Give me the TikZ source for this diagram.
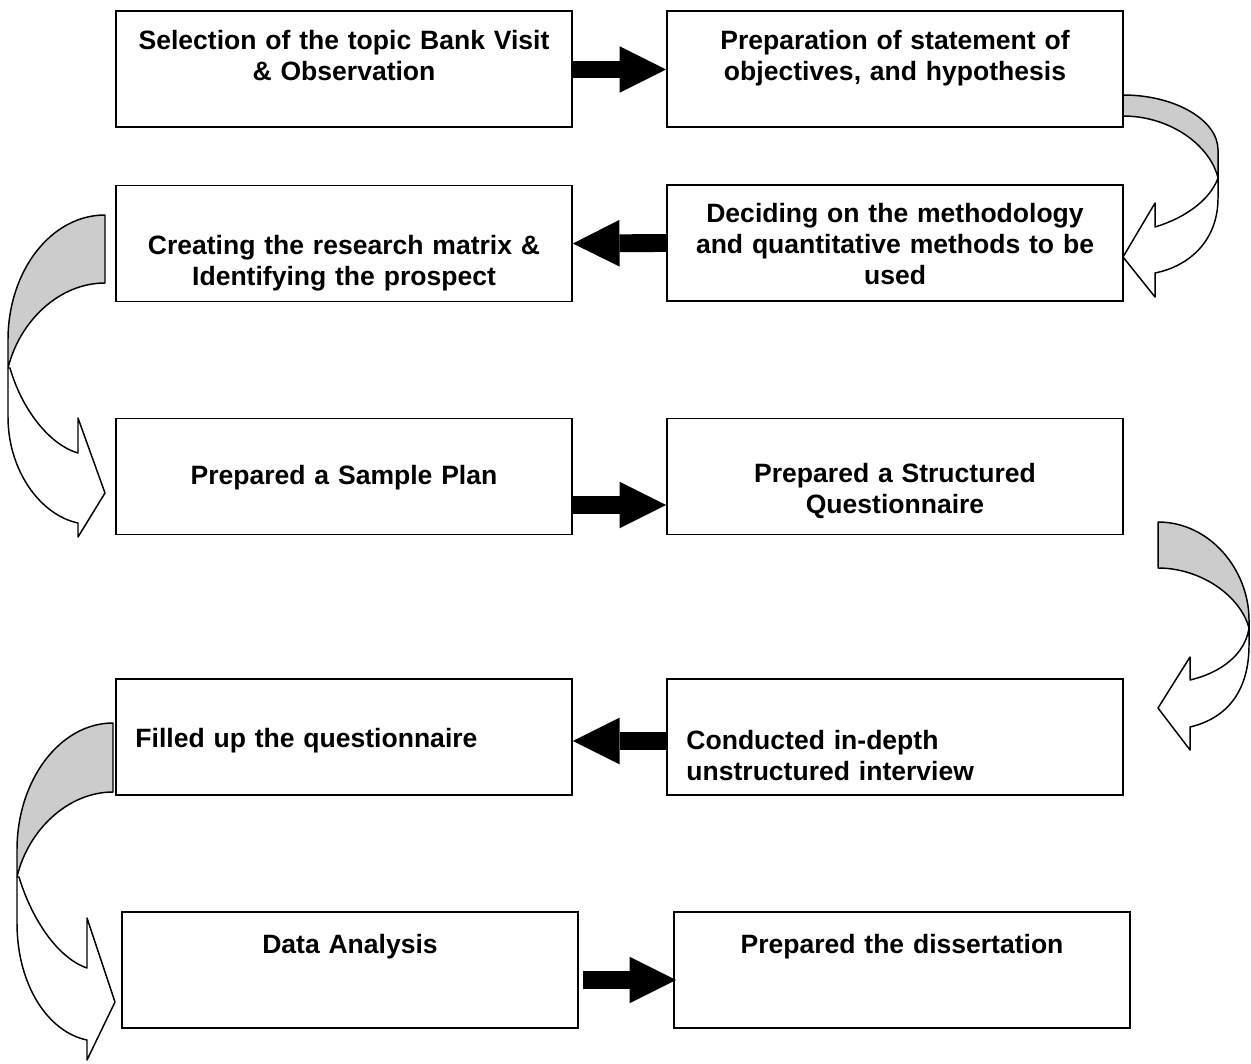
\documentclass[tikz,border=0pt]{standalone}
\usepackage{fontspec}
\setmainfont{Liberation Sans}
\usetikzlibrary{arrows.meta,calc}
\begin{document}
\begin{tikzpicture}[x=0.75pt,y=-0.75pt,
  box/.style={draw, line width=1.25pt, minimum width=342pt, minimum height=87pt, inner sep=0pt},
  lbl/.style={font=\fontsize{19.9}{23.3}\selectfont\bfseries, inner sep=0pt, text width=330pt, align=center, anchor=base},
  lbll/.style={font=\fontsize{19.9}{23.3}\selectfont\bfseries, inner sep=0pt, text width=320pt, align=left, anchor=base west},
  blockarrow/.style={line width=13.4pt, -{Triangle[length=35pt, width=35pt, line width=0pt]}},
  curved/.style={draw, line width=1.1pt, line join=round},
  back/.style={curved, fill=black!20},
  front/.style={curved, fill=white}]
\path[use as bounding box, fill=white] (0,0) rectangle (1251,1063);

% process steps
\node[box] (b1)  at (344,69)    {};
\node[box] (b2)  at (895,69)    {};
\node[box] (b3)  at (344,243.5) {};
\node[box] (b4)  at (895,243)   {};
\node[box] (b5)  at (344,476.5) {};
\node[box] (b6)  at (895,476.5) {};
\node[box] (b7)  at (344,737)   {};
\node[box] (b8)  at (895,737)   {};
\node[box] (b9)  at (350,970)   {};
\node[box] (b10) at (902,970)   {};

\node[lbl] (t1) at ($(b1.north)+(0,39)$) {Selection of the topic Bank Visit\\\& Observation};
\node[lbl] (t2) at ($(b2.north)+(0,39)$) {Preparation of statement of\\objectives, and hypothesis};
\node[lbl] (t3) at ($(b3.north)+(0,70)$) {Creating the research matrix \&\\Identifying the prospect};
\node[lbl] (t4) at ($(b4.north)+(0,38)$) {Deciding on the methodology\\and quantitative methods to be\\used};
\node[lbl] (t5) at ($(b5.north)+(0,67)$) {Prepared a Sample Plan};
\node[lbl] (t6) at ($(b6.north)+(0,65)$) {Prepared a Structured\\Questionnaire};
\node[lbll] (t7) at ($(b7.north west)+(20,69)$) {Filled up the questionnaire};
\node[lbll] (t8) at ($(b8.north west)+(20,71)$) {Conducted in-depth\\unstructured interview};
\node[lbl] (t9) at ($(b9.north)+(0,42)$) {Data Analysis};
\node[lbl] (t10) at ($(b10.north)+(0,42)$) {Prepared the dissertation};

% straight block arrows
\draw[blockarrow] ($(b1.east)+(0,0.5)$) -- ($(b2.west)+(0,0.5)$);
\draw[blockarrow] (b4.west) -- (b3.east);
\draw[blockarrow] ($(b5.east)+(0,28.5)$) -- ($(b6.west)+(0,28.5)$);
\draw[blockarrow] ($(b8.west)+(0,4)$) -- ($(b7.east)+(0,4)$);
\draw[blockarrow] ($(b9.east)+(4,10)$) -- ($(b10.west)+(3,10)$);

% curved arrow from step 2 down to step 4
\path[back] (1123,95) .. controls (1175,95) and (1218,120) .. (1218,150) -- (1218,178)
  .. controls (1210,145) and (1170,116) .. (1123,116) -- cycle;
\path[front] (1218,178) -- (1218,198) .. controls (1218,240) and (1190,266) .. (1155,273)
  -- (1155,297) -- (1123,257) -- (1155,203) -- (1155,227)
  .. controls (1185,218) and (1210,200) .. cycle;

% curved arrow from step 3 down to step 5
\path[back] (105,215) .. controls (51,215) and (8,271) .. (8,340) -- (8,368)
  .. controls (20,320) and (60,283) .. (105,283) -- cycle;
\path[front] (8,368) -- (8,417) .. controls (8,470) and (40,515) .. (78,523)
  -- (78,537) -- (105,493) -- (78,418) -- (78,453)
  .. controls (50,445) and (22,410) .. (10,368) -- cycle;

% curved arrow from step 6 down to step 8
\path[back] (1158,522) .. controls (1210,522) and (1249,570) .. (1249,620) -- (1249,628)
  .. controls (1240,595) and (1200,568) .. (1158,568) -- cycle;
\path[front] (1249,628) -- (1249,645) .. controls (1249,690) and (1228,718) .. (1190,727)
  -- (1190,750) -- (1158,708) -- (1190,657) -- (1190,680)
  .. controls (1220,673) and (1245,655) .. cycle;

% curved arrow from step 7 down to step 9
\path[back] (113,723) .. controls (60,723) and (17,780) .. (17,850) -- (17,877)
  .. controls (28,830) and (68,792) .. (113,792) -- cycle;
\path[front] (17,877) -- (17,923) .. controls (17,985) and (48,1032) .. (87,1040)
  -- (87,1060) -- (115,1002) -- (87,918) -- (87,968)
  .. controls (58,958) and (32,920) .. (19,877) -- cycle;
\end{tikzpicture}
\end{document}
